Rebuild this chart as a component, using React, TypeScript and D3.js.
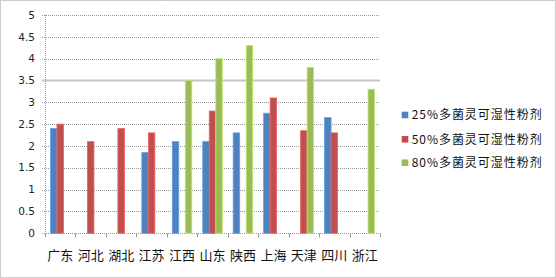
import React from "react";
import * as d3 from "d3";

const categories = ["广东", "河北", "湖北", "江苏", "江西", "山东", "陕西", "上海", "天津", "四川", "浙江"];
const seriesNames = ["25%多菌灵可湿性粉剂", "50%多菌灵可湿性粉剂", "80%多菌灵可湿性粉剂"];
const s25: (number | null)[] = [2.4, null, null, 1.85, 2.1, 2.1, 2.3, 2.75, null, 2.65, null];
const s50: (number | null)[] = [2.5, 2.1, 2.4, 2.3, null, 2.8, null, 3.1, 2.35, 2.3, null];
const s80: (number | null)[] = [null, null, null, null, 3.5, 4.0, 4.3, null, 3.8, null, 3.3];
const yTicks = [0, 0.5, 1, 1.5, 2, 2.5, 3, 3.5, 4, 4.5, 5];
const colors = ["#4F81BD", "#C0504D", "#9BBB59"];

export default function App() {
  const W = 556, H = 278;
  const left = 45, right = 380, top = 15, bottom = 233.3;
  const x = d3.scaleBand<string>().domain(categories).range([left, right]).paddingInner(0).paddingOuter(0);
  const xi = d3.scaleBand<string>().domain(seriesNames).range([0, x.bandwidth()]).paddingInner(0).paddingOuter(0.84);
  const y = d3.scaleLinear().domain([0, 5]).range([bottom, top]);
  const all = [s25, s50, s80];
  const font = "'DejaVu Sans', 'Liberation Sans', sans-serif";
  const cjk = "'Noto Sans CJK SC', sans-serif";
  return (
    <svg width={W} height={H} style={{ position: "fixed", left: 0, top: 0, background: "#fff" }}>
      <rect x={0.5} y={0.5} width={W - 1} height={H - 1} fill="#fff" stroke="#999" strokeDasharray="1,1" />
      {yTicks.map((t) => (
        <g key={t}>
          {t !== 0 && (
            t === 3.5 ? (
              <line x1={42} x2={right} y1={y(t)} y2={y(t)} stroke="#c4c4c4" strokeWidth={2} />
            ) : (
              <line x1={42} x2={right} y1={Math.round(y(t)) + 0.5} y2={Math.round(y(t)) + 0.5} stroke="#999" strokeDasharray="1,1" />
            )
          )}
          <text x={35} y={y(t)} dy="0.35em" textAnchor="end" fontFamily={font} fontSize={10.5} fill="#222">{t}</text>
        </g>
      ))}
      {/* axes */}
      <line x1={left + 0.5} x2={left + 0.5} y1={top} y2={bottom} stroke="#999" strokeDasharray="1,1" />
      <line x1={42} x2={right} y1={Math.round(bottom) + 0.5} y2={Math.round(bottom) + 0.5} stroke="#999" strokeDasharray="1,1" />
      {d3.range(categories.length + 1).map((i) => {
        const xx = Math.round(left + i * x.step()) + 0.5;
        return <line key={i} x1={xx} x2={xx} y1={bottom} y2={bottom + 4} stroke="#999" />;
      })}
      {/* bars */}
      {all.map((s, si) =>
        s.map((v, ci) =>
          v == null ? null : (
            <rect
              key={`${si}-${ci}`}
              x={(x(categories[ci]) as number) + (xi(seriesNames[si]) as number)}
              y={y(v)}
              width={xi.bandwidth()}
              height={y(0) - y(v)}
              fill={colors[si]}
              stroke={d3.color(colors[si])!.brighter(0.6).toString()}
              strokeWidth={0.8}
            />
          )
        )
      )}
      {categories.map((c) => (
        <text key={c} x={(x(c) as number) + x.bandwidth() / 2} y={255} dy="0.35em" textAnchor="middle" fontFamily={cjk} fontSize={13} fill="#111">{c}</text>
      ))}
      {/* legend */}
      {seriesNames.map((n, i) => {
        const cy = [115, 139.3, 162.7][i];
        return (
          <g key={n}>
            <rect x={401.7} y={cy - 3.3} width={6.6} height={6.6} fill={colors[i]} />
            <text x={411.7} y={cy} dy="0.35em" fontFamily={cjk} fontSize={12} fill="#111" textLength={130} lengthAdjust="spacing">{n}</text>
          </g>
        );
      })}
    </svg>
  );
}
